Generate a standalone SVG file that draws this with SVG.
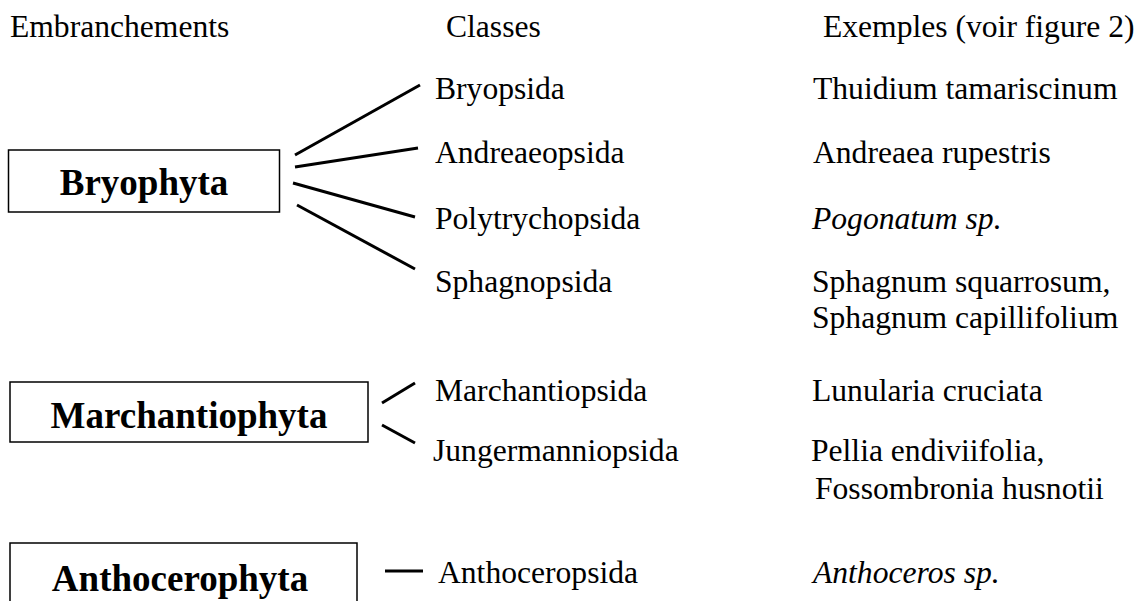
<svg xmlns="http://www.w3.org/2000/svg" width="1140" height="601" viewBox="0 0 1140 601">
<style>
.t{font-family:"Liberation Serif","Times New Roman",serif;font-size:31.6px;fill:#000}
.i{font-style:italic}
.b{font-family:"Liberation Serif","Times New Roman",serif;font-size:37px;font-weight:bold;fill:#000;text-anchor:middle}
.box{fill:#fff;stroke:#000;stroke-width:1.5}
.c line{stroke:#000;stroke-width:3}
</style>
<rect width="1140" height="601" fill="#fff"/>
<g id="headers">
<text class="t" x="10" y="37">Embranchements</text>
<text class="t" x="446" y="37">Classes</text>
<text class="t" x="823" y="37">Exemples (voir figure 2)</text>
</g>
<g id="bryophyta">
<rect class="box" x="8.5" y="150" width="271" height="62"/>
<text class="b" x="144" y="195">Bryophyta</text>
</g>
<g id="marchantiophyta">
<rect class="box" x="10" y="382" width="358" height="60"/>
<text class="b" x="189" y="428">Marchantiophyta</text>
</g>
<g id="anthocerophyta">
<rect class="box" x="10" y="543" width="347" height="70"/>
<text class="b" x="180" y="591">Anthocerophyta</text>
</g>
<g id="classes">
<text class="t" x="435" y="99">Bryopsida</text>
<text class="t" x="435" y="163">Andreaeopsida</text>
<text class="t" x="435" y="229">Polytrychopsida</text>
<text class="t" x="435" y="292">Sphagnopsida</text>
<text class="t" x="435" y="401">Marchantiopsida</text>
<text class="t" x="433" y="461">Jungermanniopsida</text>
<text class="t" x="438" y="583">Anthoceropsida</text>
</g>
<g id="examples">
<text class="t" x="813" y="99">Thuidium tamariscinum</text>
<text class="t" x="813" y="163">Andreaea rupestris</text>
<text class="t i" x="812" y="229">Pogonatum sp.</text>
<text class="t" x="812" y="292">Sphagnum squarrosum,</text>
<text class="t" x="812" y="328">Sphagnum capillifolium</text>
<text class="t" x="812" y="401">Lunularia cruciata</text>
<text class="t" x="811" y="461">Pellia endiviifolia,</text>
<text class="t" x="815" y="499">Fossombronia husnotii</text>
<text class="t i" x="813" y="583">Anthoceros sp.</text>
</g>
<g id="connectors" class="c">
<line x1="295" y1="155" x2="420" y2="85"/>
<line x1="295" y1="167" x2="418" y2="148"/>
<line x1="293" y1="183" x2="415" y2="217"/>
<line x1="297" y1="205" x2="415" y2="269"/>
<line x1="382" y1="403" x2="415" y2="383"/>
<line x1="382" y1="425" x2="415" y2="443"/>
<line x1="385" y1="571" x2="423" y2="571"/>
</g>
</svg>
